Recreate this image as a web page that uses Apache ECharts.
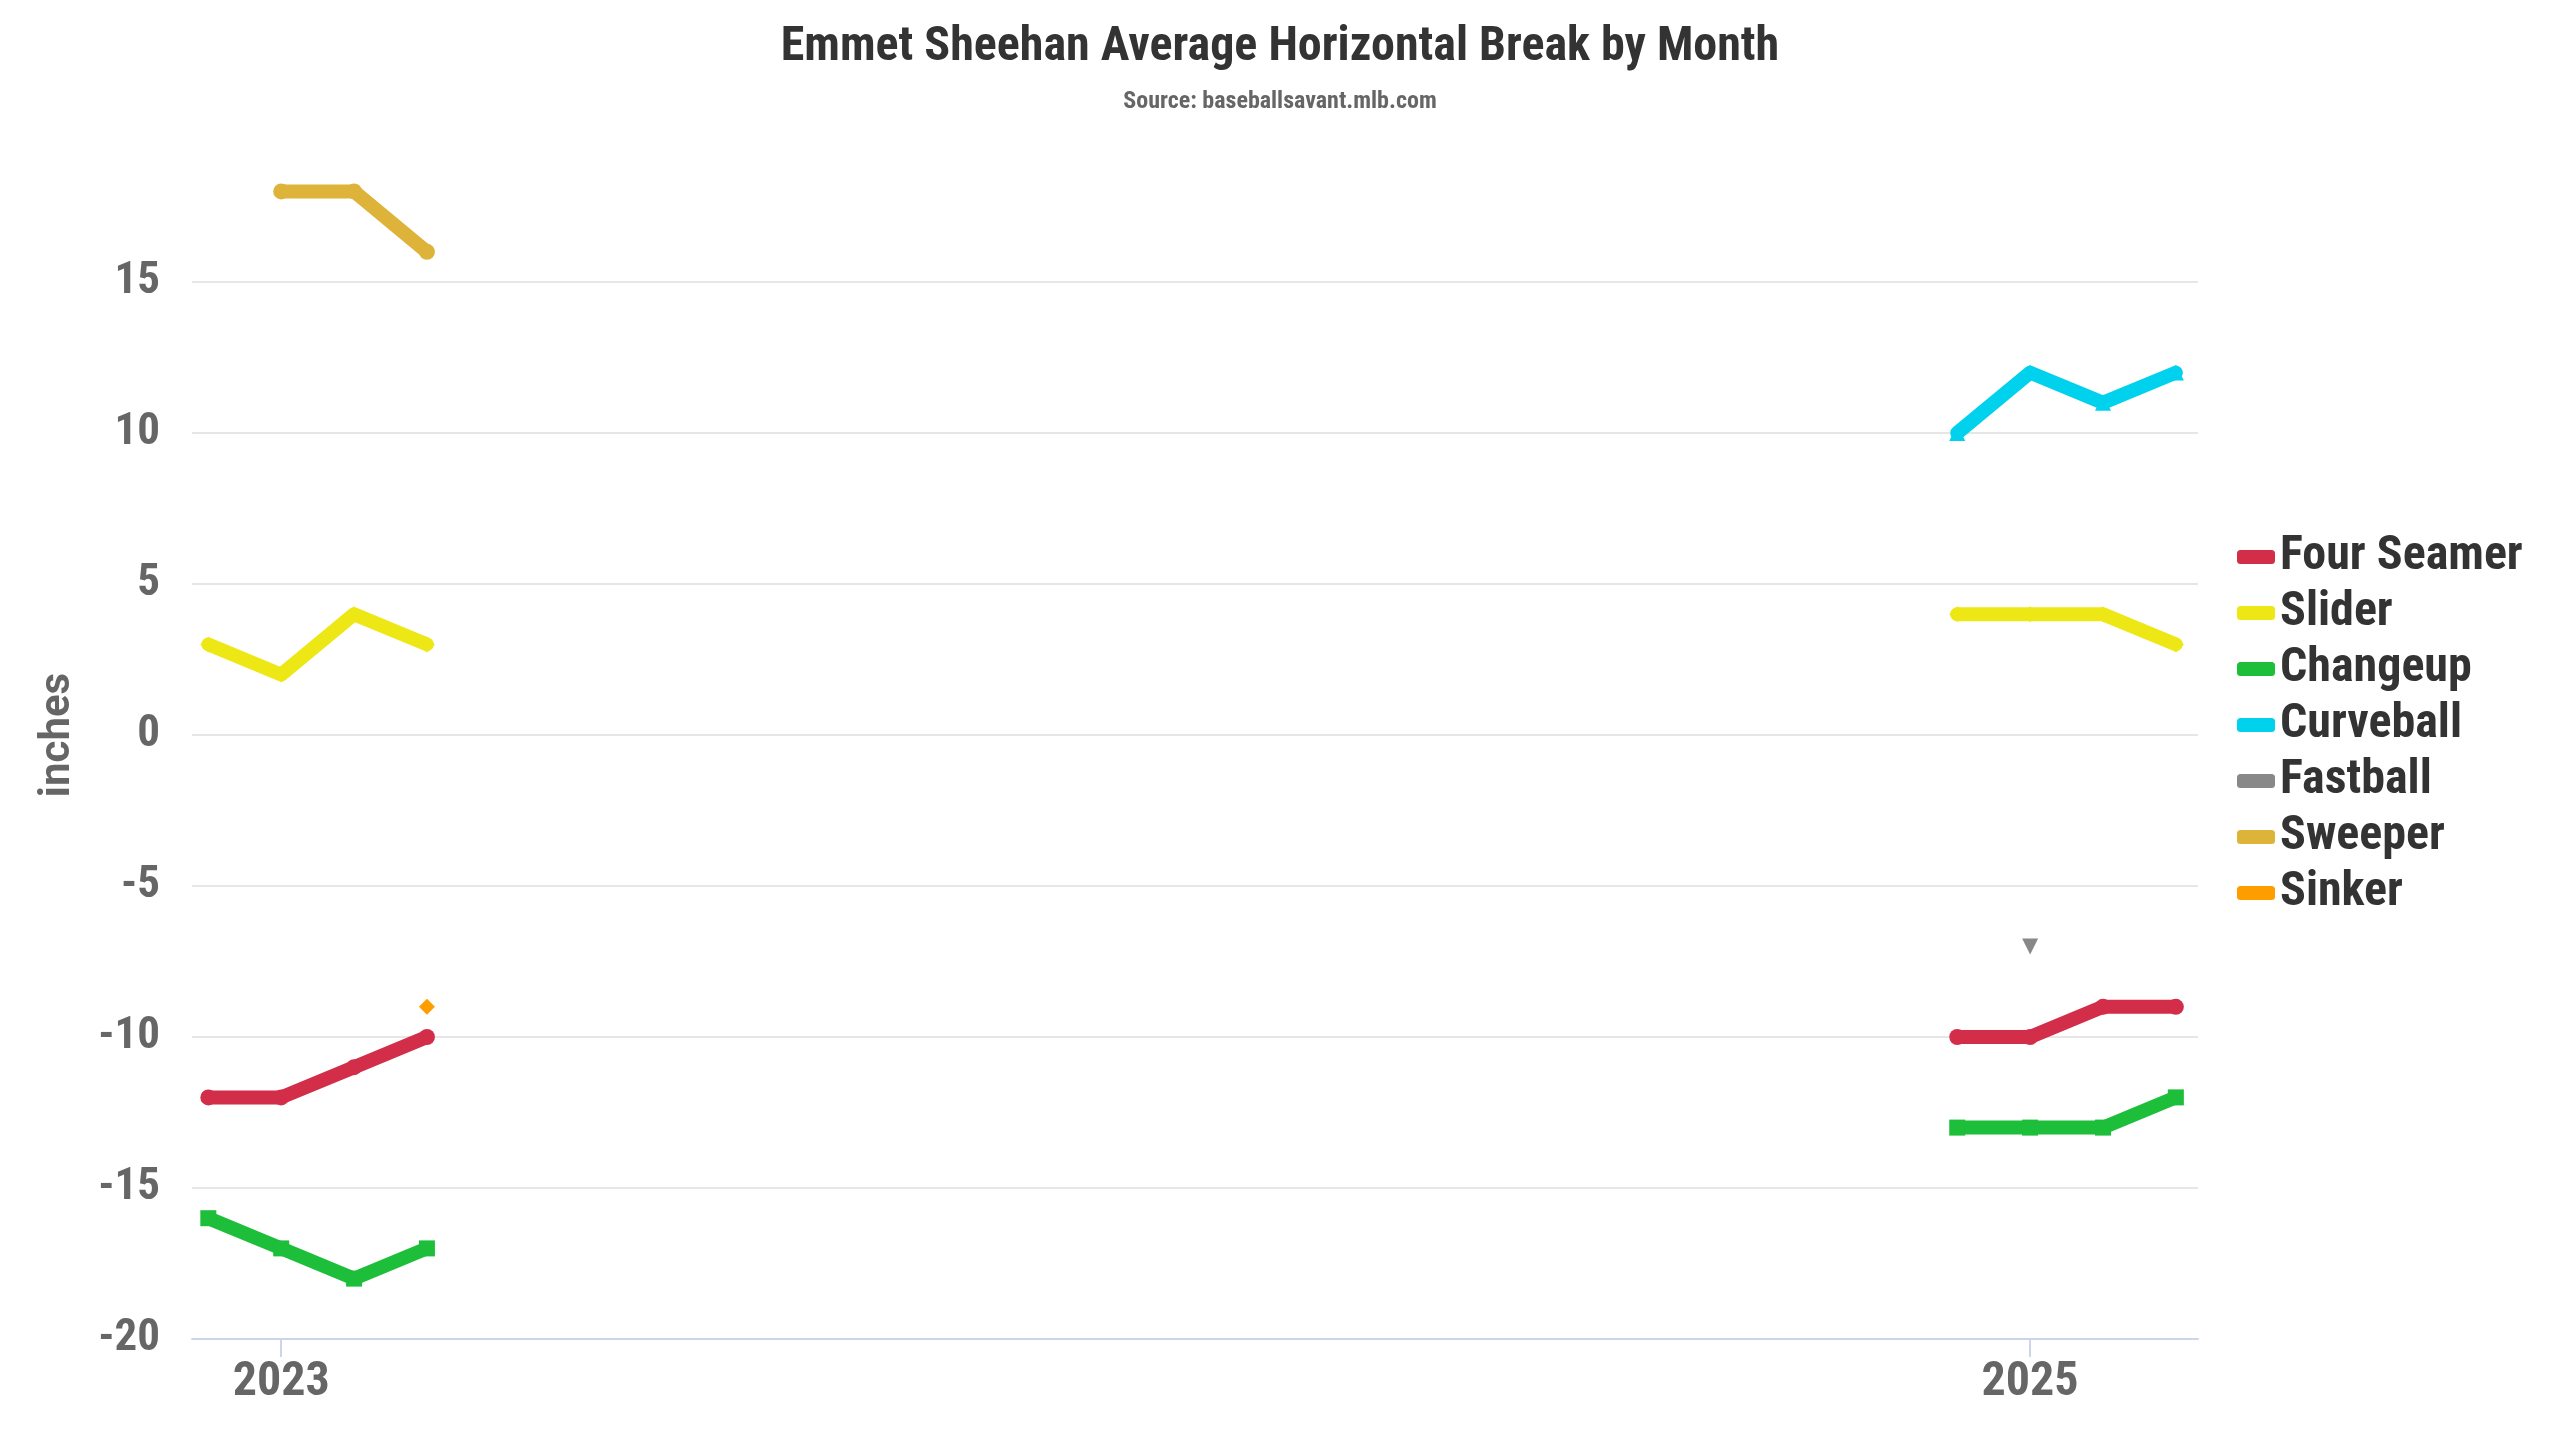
<!DOCTYPE html>
<html>
<head>
<meta charset="utf-8">
<script src="https://cdn.jsdelivr.net/npm/echarts@6/dist/echarts.min.js"></script>
<style>
html,body{margin:0;padding:0;background:#fff;}
#chart{width:2560px;height:1440px;}
</style>
</head>
<body>
<div id="chart"></div>
<script>
// Seasons and the months pitched within each (month offsets relative to July)
const seasons = [2023, 2025];
const monthOffsets = [-1, 0, 1, 2]; // Jun, Jul, Aug, Sep
const yearTicks = [2023, 2025];

// Average horizontal break (inches), per season, Jun..Sep
const fourSeamer2023 = [-12, -12, -11, -10];
const fourSeamer2025 = [-10, -10, -9, -9];
const slider2023 = [3, 2, 4, 3];
const slider2025 = [4, 4, 4, 3];
const changeup2023 = [-16, -17, -18, -17];
const changeup2025 = [-13, -13, -13, -12];
const curveball2023 = [null, null, null, null];
const curveball2025 = [10, 12, 11, 12];
const fastball2023 = [null, null, null, null];
const fastball2025 = [null, -7, null, null];
const sweeper2023 = [null, 18, 18, 16];
const sweeper2025 = [null, null, null, null];
const sinker2023 = [null, null, null, -9];
const sinker2025 = [null, null, null, null];

const pitchNames = ['Four Seamer','Slider','Changeup','Curveball','Fastball','Sweeper','Sinker'];
const pitchColors = ['#d22d49','#eee716','#1dbe3a','#00d1ed','#888888','#ddb33a','#fe9d00'];
const pitchSymbols = ['circle','diamond','rect','triangle','path://M0,0 L10,0 L5,10 Z','circle','diamond'];
const pitchValues = [
  [fourSeamer2023, fourSeamer2025],
  [slider2023, slider2025],
  [changeup2023, changeup2025],
  [curveball2023, curveball2025],
  [fastball2023, fastball2025],
  [sweeper2023, sweeper2025],
  [sinker2023, sinker2025]
];

function buildData(perSeason) {
  const out = [];
  perSeason.forEach((vals, si) => {
    if (si > 0) out.push([seasons[si] - 1, null]);
    vals.forEach((v, mi) => {
      out.push([seasons[si] + monthOffsets[mi] / 12, v]);
    });
  });
  return out;
}

const FONT = '"Roboto Condensed", "Liberation Sans Narrow", "DejaVu Sans Condensed", Roboto, sans-serif';

const series = pitchNames.map((name, i) => ({
  name: name,
  type: 'line',
  data: buildData(pitchValues[i]),
  connectNulls: false,
  symbol: pitchSymbols[i],
  symbolSize: 16,
  showSymbol: true,
  lineStyle: { width: 14, color: pitchColors[i], cap: 'round', join: 'round' },
  itemStyle: { color: pitchColors[i] },
  emphasis: { disabled: true },
  animation: false
}));

const chart = echarts.init(document.getElementById('chart'));
chart.setOption({
  backgroundColor: '#ffffff',
  color: pitchColors,
  title: {
    text: 'Emmet Sheehan Average Horizontal Break by Month',
    subtext: 'Source: baseballsavant.mlb.com',
    left: 1275,
    textAlign: 'center',
    top: 19,
    itemGap: 18,
    textStyle: { fontFamily: FONT, fontSize: 48, fontWeight: 'bold', color: '#333333' },
    subtextStyle: { fontFamily: FONT, fontSize: 24, fontWeight: 'bold', color: '#666666' }
  },
  legend: {
    orient: 'vertical',
    left: 2232,
    top: 527,
    icon: 'roundRect',
    itemWidth: 38,
    itemHeight: 14,
    itemGap: 6,
    data: pitchNames,
    textStyle: { fontFamily: FONT, fontSize: 48, fontWeight: 'bold', color: '#333333', lineHeight: 50 }
  },
  grid: { left: 192, right: 362, top: 131, bottom: 101, containLabel: false },
  xAxis: {
    type: 'value',
    min: 2022.898,
    max: 2025.192,
    axisLine: { show: true, onZero: false, lineStyle: { color: '#ccd6eb', width: 2 } },
    axisTick: { show: true, customValues: yearTicks, length: 18, lineStyle: { color: '#ccd6eb', width: 2 } },
    axisLabel: {
      customValues: yearTicks,
      formatter: v => String(Math.round(v)),
      fontFamily: FONT, fontSize: 48, fontWeight: 'bold', color: '#666666', margin: 20
    },
    splitLine: { show: false }
  },
  yAxis: {
    type: 'value',
    min: -20,
    max: 20,
    interval: 5,
    name: 'inches',
    nameLocation: 'middle',
    nameRotate: 90,
    nameGap: 113,
    nameTextStyle: { fontFamily: 'Roboto, sans-serif', fontSize: 42, fontWeight: 'bold', color: '#666666' },
    axisLine: { show: false },
    axisTick: { show: false },
    axisLabel: {
      showMaxLabel: false,
      fontFamily: FONT, fontSize: 45, fontWeight: 'bold', color: '#666666', margin: 32
    },
    splitLine: { show: true, showMaxLine: false, lineStyle: { color: '#e6e6e6', width: 2 } }
  },
  series: series,
  animation: false
});
</script>
</body>
</html>
